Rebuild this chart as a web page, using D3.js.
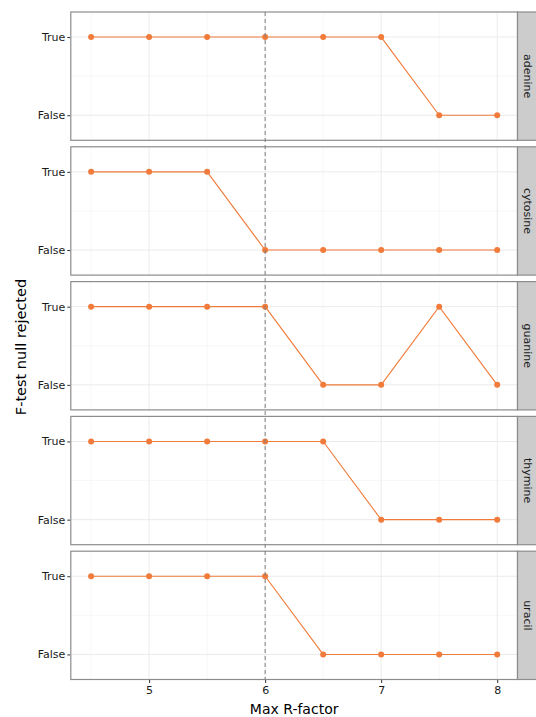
<!DOCTYPE html>
<html><head><meta charset="utf-8">
<script src="https://cdn.jsdelivr.net/npm/d3@7"></script>
<style>body{margin:0;background:#fff}svg{display:block}text{font-family:"DejaVu Sans",sans-serif}</style>
</head><body>
<svg id="c" width="536" height="717"></svg>
<script>
const maxR = [4.5, 5, 5.5, 6, 6.5, 7, 7.5, 8];
const bases = ["adenine", "cytosine", "guanine", "thymine", "uracil"];
const adenine  = [true, true, true, true, true, true, false, false];
const cytosine = [true, true, true, false, false, false, false, false];
const guanine  = [true, true, true, true, false, false, true, false];
const thymine  = [true, true, true, true, true, false, false, false];
const uracil   = [true, true, true, true, false, false, false, false];
const series = {adenine, cytosine, guanine, thymine, uracil};
const yCats = ["True", "False"];
const xTicks = [5, 6, 7, 8];
const xMinor = [4.5, 5.5, 6.5, 7.5];
const threshold = 6;

const svg = d3.select("#c");
const left = 70.8, right = 517.5, top0 = 12, bottom = 679.5, gap = 6.5;
const ph = (bottom - top0 - gap * 4) / 5;
const color = "#F07B3A";

const x = d3.scaleLinear().domain([4.5 - 0.175, 8 + 0.175]).range([left, right]);
const padFrac = 25 / 128;

bases.forEach((b, i) => {
  const t = top0 + i * (ph + gap);
  const y = d3.scalePoint().domain(yCats).range([t + ph * padFrac, t + ph * (1 - padFrac)]);
  const g = svg.append("g");
  g.selectAll(".vm").data(xMinor).join("line")
    .attr("x1", d => x(d)).attr("x2", d => x(d)).attr("y1", t).attr("y2", t + ph)
    .attr("stroke", "#f2f2f2").attr("stroke-width", 0.6);
  g.append("line").attr("x1", left).attr("x2", right)
    .attr("y1", (y("True") + y("False")) / 2).attr("y2", (y("True") + y("False")) / 2)
    .attr("stroke", "#f2f2f2").attr("stroke-width", 0.6);
  g.selectAll(".vM").data(xTicks).join("line")
    .attr("x1", d => x(d)).attr("x2", d => x(d)).attr("y1", t).attr("y2", t + ph)
    .attr("stroke", "#ebebeb").attr("stroke-width", 1);
  g.selectAll(".hM").data(yCats).join("line")
    .attr("x1", left).attr("x2", right).attr("y1", d => y(d)).attr("y2", d => y(d))
    .attr("stroke", "#ebebeb").attr("stroke-width", 1);
  const ya = g.append("g").attr("transform", `translate(${left - 0.5},0)`)
    .call(d3.axisLeft(y).tickSize(3).tickPadding(2));
  ya.select(".domain").remove();
  ya.selectAll(".tick line").attr("stroke", "#333");
  ya.selectAll("text").attr("fill", "#1a1a1a").attr("font-size", 11).attr("font-family", "DejaVu Sans");
  const vals = series[b];
  const pts = maxR.map((m, k) => [x(m), y(vals[k] ? "True" : "False")]);
  g.append("path").attr("d", d3.line()(pts)).attr("fill", "none")
    .attr("stroke", color).attr("stroke-width", 1.1);
  g.selectAll(".pt").data(pts).join("circle")
    .attr("cx", d => d[0]).attr("cy", d => d[1]).attr("r", 3).attr("fill", color);
  g.append("rect").attr("x", left).attr("y", t).attr("width", right - left).attr("height", ph)
    .attr("fill", "none").attr("stroke", "#8c8c8c").attr("stroke-width", 1.2);
  g.append("rect").attr("x", right).attr("y", t).attr("width", 22).attr("height", ph)
    .attr("fill", "#cccccc").attr("stroke", "#8c8c8c").attr("stroke-width", 1.2);
  g.append("text").attr("transform", `translate(${right + 10},${t + ph / 2}) rotate(90)`)
    .attr("text-anchor", "middle").attr("dominant-baseline", "central")
    .attr("font-size", 11).attr("fill", "#1a1a1a").text(b);
});

svg.append("line").attr("x1", x(threshold)).attr("x2", x(threshold))
  .attr("y1", top0).attr("y2", bottom)
  .attr("stroke", "#7f7f7f").attr("stroke-width", 1).attr("stroke-dasharray", "4,3");

const xa = svg.append("g").attr("transform", `translate(0,${bottom + 0.5})`)
  .call(d3.axisBottom(x).tickValues(xTicks).tickSize(3).tickPadding(3).tickFormat(d3.format("d")));
xa.select(".domain").remove();
xa.selectAll(".tick line").attr("stroke", "#333");
xa.selectAll("text").attr("fill", "#1a1a1a").attr("font-size", 11).attr("font-family", "DejaVu Sans");

svg.append("text").attr("x", (left + right) / 2).attr("y", 714)
  .attr("text-anchor", "middle").attr("font-size", 14).attr("fill", "#000").text("Max R-factor");
svg.append("text").attr("transform", `translate(25.5,347) rotate(-90)`)
  .attr("text-anchor", "middle").attr("font-size", 14.5).attr("fill", "#000").text("F-test null rejected");
</script>
</body></html>
